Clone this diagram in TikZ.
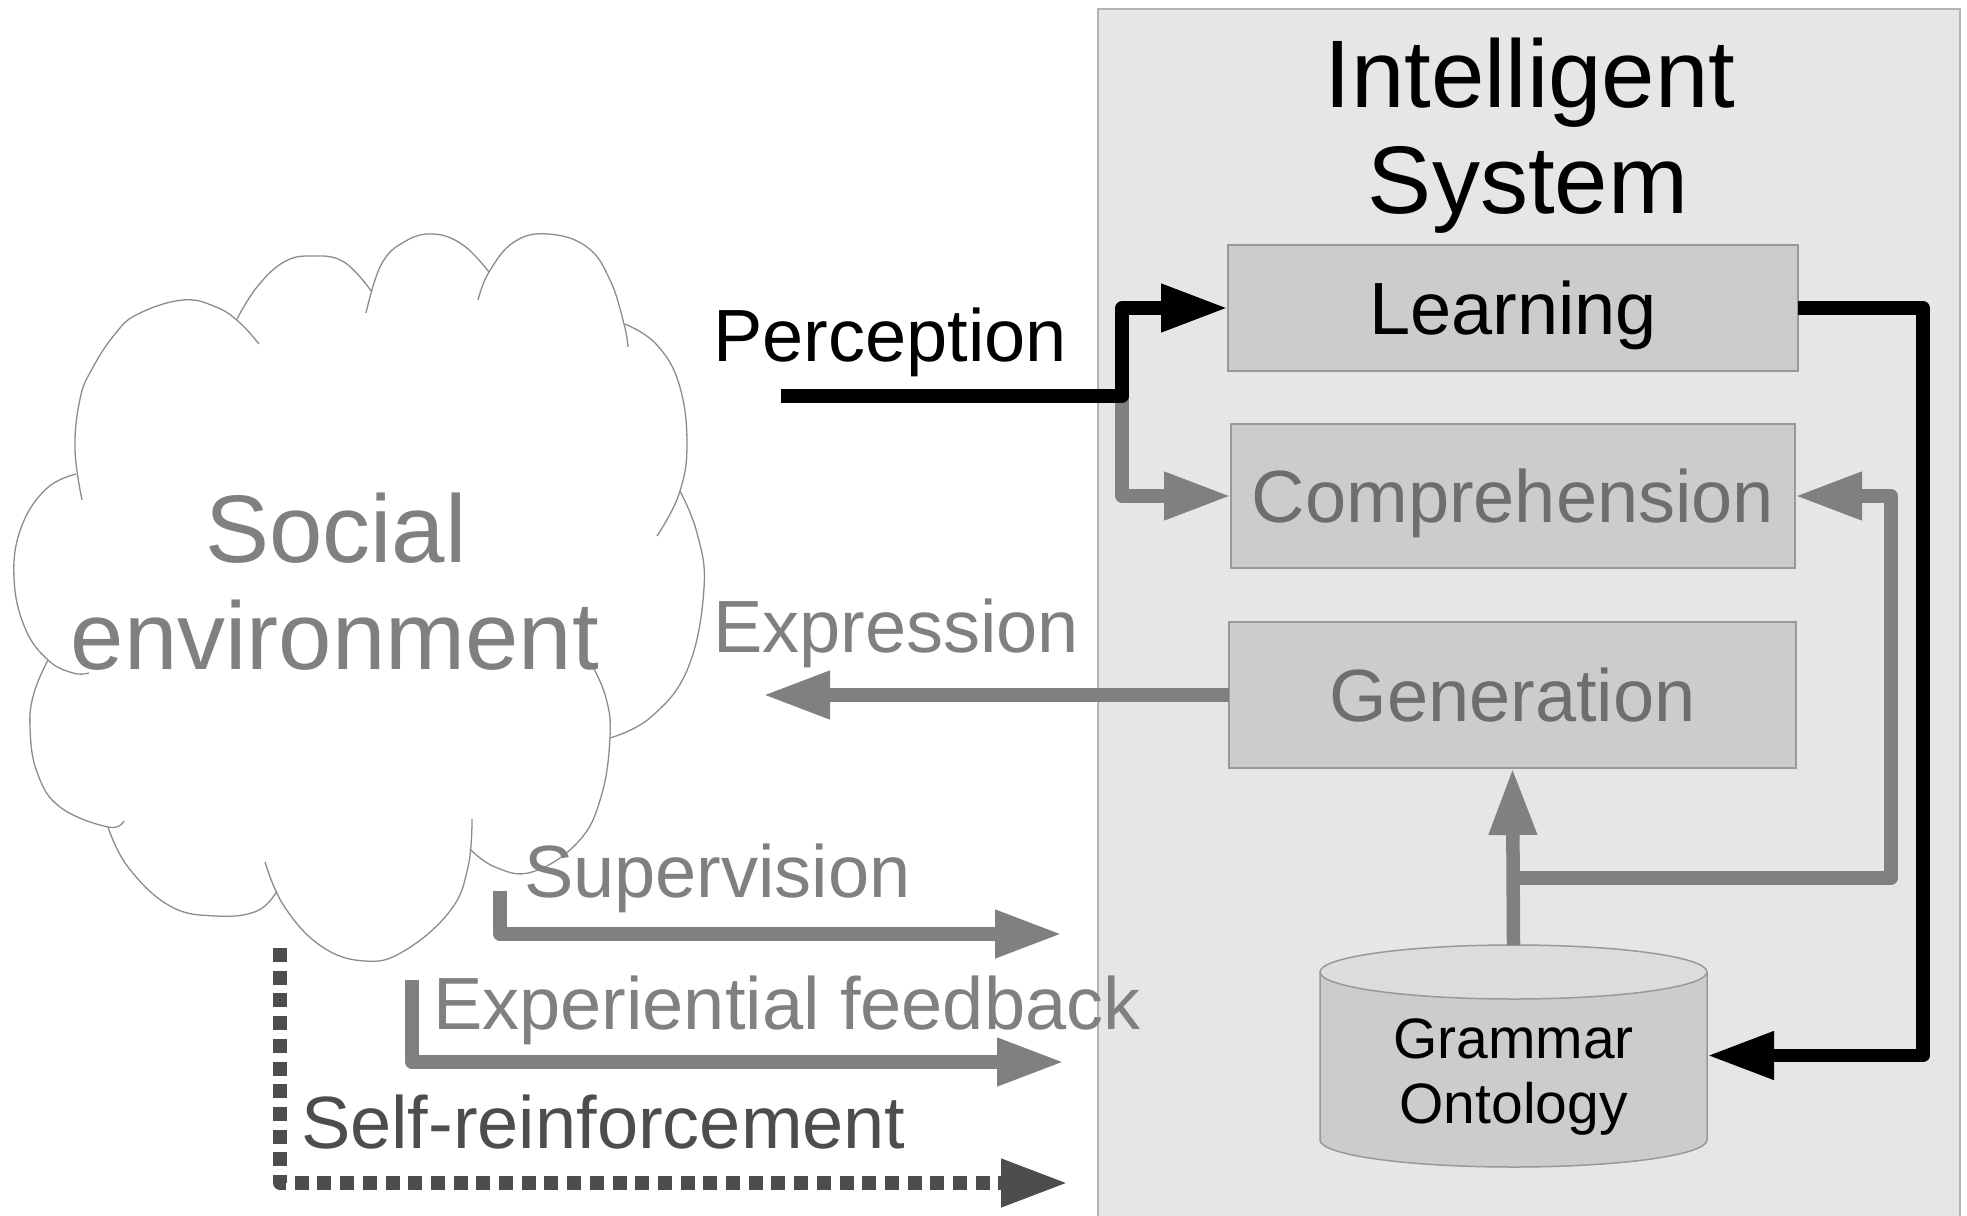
\documentclass[tikz,border=0pt]{standalone}
\usepackage{fontspec}
\setmainfont{Liberation Sans}
\usetikzlibrary{arrows.meta}
\definecolor{panelfill}{HTML}{E6E6E6}
\definecolor{panelline}{HTML}{B3B3B3}
\definecolor{boxfill}{HTML}{CCCCCC}
\definecolor{boxline}{HTML}{999999}
\definecolor{cyltop}{HTML}{DCDCDC}
\definecolor{arrowgray}{HTML}{808080}
\definecolor{darkgray}{HTML}{4D4D4D}
\definecolor{boxtext}{HTML}{6E6E6E}
\definecolor{cloudline}{HTML}{8C8C8C}
\begin{document}
\begin{tikzpicture}[x=1pt,y=-1pt,
  every node/.style={inner sep=0pt, outer sep=0pt},
  bigfont/.style={font=\fontsize{96}{107}\selectfont},
  midfont/.style={font=\fontsize{74}{80}\selectfont},
  smallfont/.style={font=\fontsize{57}{65}\selectfont},
  stagebox/.style={draw=boxline, fill=boxfill, line width=1.5pt, midfont,
    text height=53pt, text depth=0pt},
  conn/.style={line width=13.5pt, line join=round,
    -{Triangle[length=67pt,width=45pt]}},
  cloudlobe/.style={draw=cloudline, line width=1.3pt}
]
\useasboundingbox (0,0) rectangle (1967,1215);
\fill[white] (0,0) rectangle (1967,1215);

% Intelligent system panel
\fill[panelfill] (1098,9) rectangle (1960,1216);
\draw[panelline, line width=1.5pt] (1098,1216) -- (1098,9) -- (1960,9) -- (1960,1216);
\node[bigfont, anchor=base] (t1) at (1530,107) {Intelligent};
\node[bigfont, anchor=base] (t2) at (1528,213) {System};

% boxes
\node[stagebox, minimum width=570pt, minimum height=126pt] (learn) at (1513,308) {Learning};
\node[stagebox, minimum width=564pt, minimum height=144pt, text=boxtext] (comp) at (1513,496) {Comprehension};
\node[stagebox, minimum width=567pt, minimum height=146pt, text=boxtext] (gen) at (1512.5,695) {Generation};

% cylinder
\node[minimum width=387pt, minimum height=221pt] (cyl) at (1513.5,1055.5) {};
\fill[boxfill] (1320,972) rectangle (1707,1140);
\fill[boxfill] (1513.5,1140) ellipse[x radius=193.5pt, y radius=27pt];
\draw[boxline, line width=1.5pt] (1320,972) -- (1320,1140)
  arc[start angle=180, end angle=360, x radius=193.5pt, y radius=27pt] -- (1707,972);
\draw[boxline, fill=cyltop, line width=1.5pt] (1513.5,972) ellipse[x radius=193.5pt, y radius=27pt];
\node[smallfont, anchor=base] (gram) at (1513.5,1058) {Grammar};
\node[smallfont, anchor=base] (onto) at (1513.5,1123) {Ontology};

% cloud
\draw[cloudlobe] plot[smooth, tension=0.7] coordinates {(76,474) (46,489) (21,528) (14,578) (25,628) (48,660) (73,673) (89,673)};
\draw[cloudlobe] plot[smooth, tension=0.7] coordinates {(48,660) (34,693) (30,727) (37,772) (60,807) (108,827) (124,821)};
\draw[cloudlobe] plot[smooth, tension=0.7] coordinates {(108,827) (128,867) (170,906) (216,916) (257,911) (277,891)};
\draw[cloudlobe] plot[smooth, tension=0.7] coordinates {(265,862) (284,906) (321,946) (365,961) (404,951) (450,911) (468,867) (472,819)};
\draw[cloudlobe] plot[smooth, tension=0.7] coordinates {(470,849) (495,867) (532,872) (578,842) (601,797) (610,737) (606,698) (592,665)};
\draw[cloudlobe] plot[smooth, tension=0.7] coordinates {(610,738) (651,717) (688,668) (704,588) (697,533) (680,491)};
\draw[cloudlobe] plot[smooth, tension=0.7] coordinates {(657,536) (679,494) (687,444) (679,384) (656,344) (625,324)};
\draw[cloudlobe] plot[smooth, tension=0.7] coordinates {(628,347) (624,324) (610,280) (587,247) (548,234) (514,242) (489,272) (478,300)};
\draw[cloudlobe] plot[smooth, tension=0.7] coordinates {(366,313) (381,265) (404,242) (433,234) (463,245) (489,272)};
\draw[cloudlobe] plot[smooth, tension=0.7] coordinates {(237,319) (257,287) (284,262) (312,256) (344,262) (372,292)};
\draw[cloudlobe] plot[smooth, tension=0.7] coordinates {(82,500) (75,449) (80,399) (92,369) (115,334) (138,314) (183,300) (216,307) (239,322) (259,344)};
\node[bigfont, text=arrowgray, anchor=base] (soc1) at (336,562) {Social};
\node[bigfont, text=arrowgray, anchor=base] (soc2) at (335,669) {environment};

% labels
\node[midfont, anchor=base west] (perc) at (713,361) {Perception};
\node[midfont, text=arrowgray, anchor=base west] (expr) at (713,652) {Expression};
\node[midfont, text=arrowgray, anchor=base west] (supv) at (524,897) {Supervision};
\node[midfont, text=arrowgray, anchor=base west] (expf) at (433,1029) {Experiential feedback};
\node[midfont, text=darkgray, anchor=base west] (selfr) at (301,1148) {Self-reinforcement};

% connector end points
\coordinate (pstart) at (781,396);
\coordinate (pjoin) at (1122,396);
\coordinate (lbend) at (1923,308);
\coordinate (gbranch) at (1514,878);
\coordinate (gright) at (1891,878);
\coordinate (extip) at (763,695);
\coordinate (s0) at (500,891);
\coordinate (s1) at (1062,934);
\coordinate (e0) at (412,980);
\coordinate (e1) at (1064,1062);
\coordinate (r0) at (280,948);
\coordinate (r1) at (1068,1183);

% connectors
\draw[conn, arrowgray] (pjoin) |- (comp.west);
\draw[conn, black] (pstart) -- (pjoin) |- (learn.west);
\draw[conn, black] (learn.east) -- (lbend) |- (cyl.east);
\draw[conn, arrowgray] (gbranch) -- (gright) |- (comp.east);
\draw[conn, arrowgray] (cyl.north) -- (gen.south);
\draw[conn, arrowgray] (gen.west) -- (extip);
\draw[conn, arrowgray] (s0) |- (s1);
\draw[conn, arrowgray] (e0) |- (e1);
\draw[conn, darkgray, dash pattern=on 14pt off 8.7pt] (r0) |- (r1);
\end{tikzpicture}
\end{document}
